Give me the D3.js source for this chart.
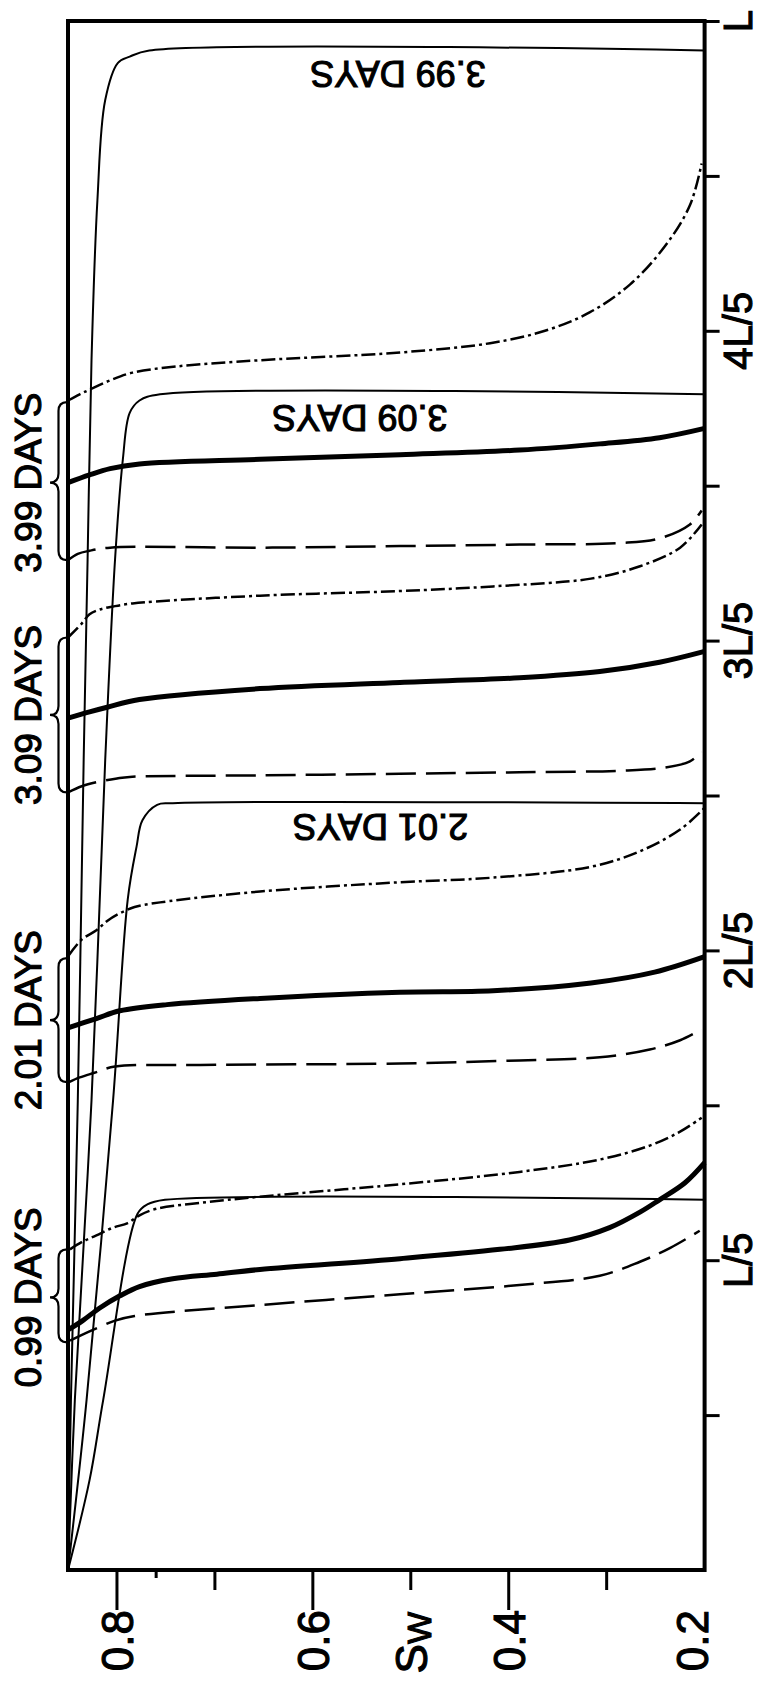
<!DOCTYPE html>
<html>
<head>
<meta charset="utf-8">
<script src="https://cdn.jsdelivr.net/npm/d3@7"></script>
<style>
  body { margin: 0; background: #fff; }
  text { font-family: "Liberation Sans", Arial, sans-serif; fill: #000; stroke: #000; stroke-width: 1.1px; }
</style>
</head>
<body>
<div id="chart"></div>
<script>
// each point is [Sw, x/L]
// thin solid = sharp front solutions
const front099 = [[0.850,0],[0.828,0.058],[0.814,0.110],[0.779,0.230],[0.769,0.236],[0.751,0.239],[0.2,0.239]];
const front201 = [[0.850,0],[0.831,0.110],[0.804,0.303],[0.789,0.433],[0.780,0.467],[0.774,0.484],[0.759,0.494],[0.743,0.495],[0.2,0.495]];
const front309 = [[0.850,0],[0.843,0.110],[0.826,0.303],[0.812,0.523],[0.802,0.652],[0.794,0.717],[0.787,0.747],[0.777,0.755],[0.756,0.759],[0.2,0.759]];
const front399 = [[0.850,0],[0.847,0.110],[0.840,0.303],[0.834,0.523],[0.830,0.652],[0.826,0.781],[0.820,0.884],[0.812,0.949],[0.799,0.973],[0.787,0.977],[0.767,0.981],[0.2,0.981]];

// thick solid
const thick099 = [[0.850,0.155],[0.835,0.161],[0.818,0.169],[0.797,0.177],[0.777,0.183],[0.743,0.188],[0.698,0.191],[0.654,0.194],[0.511,0.201],[0.409,0.207],[0.338,0.213],[0.297,0.221],[0.266,0.231],[0.246,0.239],[0.220,0.250],[0.200,0.263]];
const thick201 = [[0.850,0.350],[0.821,0.356],[0.797,0.361],[0.749,0.365],[0.654,0.369],[0.511,0.373],[0.416,0.374],[0.316,0.379],[0.251,0.386],[0.200,0.396]];
const thick309 = [[0.850,0.550],[0.828,0.554],[0.810,0.557],[0.777,0.562],[0.654,0.569],[0.511,0.573],[0.389,0.576],[0.307,0.580],[0.246,0.586],[0.200,0.593]];
const thick399 = [[0.850,0.702],[0.828,0.707],[0.807,0.711],[0.777,0.714],[0.654,0.717],[0.511,0.720],[0.389,0.723],[0.307,0.727],[0.246,0.731],[0.200,0.737]];

// long dashes
const long099 = [[0.848,0.148],[0.828,0.154],[0.802,0.161],[0.782,0.164],[0.654,0.171],[0.511,0.178],[0.389,0.184],[0.307,0.190],[0.266,0.199],[0.235,0.208],[0.205,0.219]];
const long201 = [[0.849,0.315],[0.838,0.318],[0.823,0.321],[0.802,0.325],[0.715,0.326],[0.511,0.327],[0.389,0.329],[0.307,0.331],[0.256,0.336],[0.225,0.342],[0.203,0.349]];
const long309 = [[0.850,0.502],[0.836,0.506],[0.818,0.509],[0.800,0.511],[0.787,0.512],[0.654,0.513],[0.511,0.514],[0.389,0.515],[0.286,0.516],[0.240,0.518],[0.215,0.522],[0.203,0.528]];
const long399 = [[0.850,0.652],[0.840,0.656],[0.828,0.658],[0.807,0.660],[0.654,0.660],[0.511,0.661],[0.389,0.662],[0.286,0.663],[0.246,0.666],[0.215,0.675],[0.203,0.684]];

// short dashes
const short099 = [[0.848,0.207],[0.835,0.212],[0.821,0.216],[0.804,0.221],[0.789,0.224],[0.777,0.229],[0.761,0.233],[0.715,0.237],[0.654,0.241],[0.511,0.249],[0.389,0.257],[0.307,0.265],[0.256,0.274],[0.225,0.283],[0.203,0.292]];
const short201 = [[0.849,0.397],[0.836,0.407],[0.821,0.413],[0.810,0.419],[0.797,0.424],[0.782,0.428],[0.756,0.431],[0.654,0.438],[0.511,0.444],[0.416,0.447],[0.316,0.454],[0.266,0.464],[0.225,0.478],[0.200,0.492]];
const short309 = [[0.850,0.602],[0.836,0.611],[0.828,0.617],[0.818,0.620],[0.804,0.622],[0.784,0.624],[0.654,0.629],[0.511,0.632],[0.416,0.635],[0.316,0.640],[0.266,0.648],[0.225,0.660],[0.203,0.675]];
const short399 = [[0.850,0.755],[0.838,0.759],[0.828,0.762],[0.807,0.768],[0.784,0.773],[0.739,0.777],[0.654,0.781],[0.511,0.786],[0.419,0.792],[0.363,0.800],[0.317,0.812],[0.276,0.830],[0.240,0.855],[0.215,0.881],[0.203,0.908]];

// labels
const dayLabels = ["0.99 DAYS", "2.01 DAYS", "3.09 DAYS", "3.99 DAYS"];
const braceTop = [0.207, 0.395, 0.602, 0.754];
const braceBottom = [0.147, 0.315, 0.502, 0.652];
const braceTip = [0.176, 0.355, 0.552, 0.702];
const frontLabels = ["2.01 DAYS", "3.09 DAYS", "3.99 DAYS"];
const frontLabelSw = [0.531, 0.552, 0.513];
const frontLabelPos = [0.495, 0.759, 0.981];

const distTicks = [0.1, 0.2, 0.3, 0.4, 0.5, 0.6, 0.7, 0.8, 0.9, 1.0];
const distLabelVals = [0.2, 0.4, 0.6, 0.8, 1.0];
const distLabels = ["L/5", "2L/5", "3L/5", "4L/5", "L"];
const swMajor = [0.8, 0.6, 0.4];
const swMid = [0.7, 0.5, 0.3];
const swMinor = [0.76];
const swLabelVals = [0.8, 0.6, 0.4, 0.2];
const swLabels = ["0.8", "0.6", "0.4", "0.2"];

const width = 767, height = 1688;

const svg = d3.select("#chart").append("svg")
  .attr("width", width)
  .attr("height", height);

const x = d3.scaleLinear().domain([0.2, 0.85]).range([704.6, 68]);
const y = d3.scaleLinear().domain([0, 1]).range([1570, 21]);

const line = d3.line()
  .x(d => x(d[0]))
  .y(d => y(d[1]))
  .curve(d3.curveCatmullRom.alpha(0.5));

const curves = [
  { data: front099, w: 2, dash: null },
  { data: front201, w: 2, dash: null },
  { data: front309, w: 2, dash: null },
  { data: front399, w: 2, dash: null },
  { data: long099, w: 2.5, dash: "30,10" },
  { data: long201, w: 2.5, dash: "30,10" },
  { data: long309, w: 2.5, dash: "30,10" },
  { data: long399, w: 2.5, dash: "30,10" },
  { data: short099, w: 2.5, dash: "14,4,3,4" },
  { data: short201, w: 2.5, dash: "14,4,3,4" },
  { data: short309, w: 2.5, dash: "14,4,3,4" },
  { data: short399, w: 2.5, dash: "14,4,3,4" },
  { data: thick099, w: 5, dash: null },
  { data: thick201, w: 5, dash: null },
  { data: thick309, w: 5, dash: null },
  { data: thick399, w: 5, dash: null }
];

svg.selectAll(".curve")
  .data(curves)
  .enter().append("path")
  .attr("class", "curve")
  .attr("d", d => line(d.data))
  .attr("fill", "none")
  .attr("stroke", "#000")
  .attr("stroke-width", d => d.w)
  .attr("stroke-dasharray", d => d.dash)
  .attr("stroke-linejoin", "round");

// frame
svg.append("rect")
  .attr("x", x(0.85))
  .attr("y", y(1))
  .attr("width", x(0.2) - x(0.85))
  .attr("height", y(0) - y(1))
  .attr("fill", "none")
  .attr("stroke", "#000")
  .attr("stroke-width", 4);

// distance axis on the right
const rightAxis = svg.append("g")
  .attr("transform", `translate(${x(0.2)},0)`)
  .call(d3.axisRight(y).tickValues(distTicks).tickSize(15).tickFormat(""));
rightAxis.select(".domain").remove();
rightAxis.selectAll("line").attr("stroke", "#000").attr("stroke-width", 3);

svg.selectAll(".distLabel")
  .data(distLabelVals)
  .enter().append("text")
  .attr("class", "distLabel")
  .attr("transform", d => `translate(738,${y(d)}) rotate(-90)`)
  .attr("text-anchor", "middle")
  .attr("dy", "0.36em")
  .style("font-size", "40px")
  .text((d, i) => distLabels[i]);

// Sw ticks along the bottom
function bottomTicks(vals, len) {
  svg.selectAll(null)
    .data(vals)
    .enter().append("line")
    .attr("x1", d => x(d)).attr("x2", d => x(d))
    .attr("y1", y(0)).attr("y2", y(0) + len)
    .attr("stroke", "#000")
    .attr("stroke-width", 3);
}
bottomTicks(swMajor, 40);
bottomTicks(swMid, 20);
bottomTicks(swMinor, 8);

svg.selectAll(".swLabel")
  .data(swLabelVals)
  .enter().append("text")
  .attr("class", "swLabel")
  .attr("transform", d => `translate(${d === 0.2 ? x(d) - 12 : x(d)},1610) rotate(-90)`)
  .attr("text-anchor", "end")
  .attr("dy", "0.36em")
  .style("font-size", "44px")
  .text((d, i) => swLabels[i]);

const swTitle = svg.append("text")
  .attr("transform", `translate(${x(0.5)},1612) rotate(-90)`)
  .attr("text-anchor", "end")
  .attr("dy", "0.36em")
  .style("font-size", "44px");
swTitle.append("tspan").text("S");
swTitle.append("tspan").attr("dy", "0.12em").style("font-size", "34px").text("W");

// braces on the left
function brace(top, tip, bottom) {
  const xr = x(0.85) - 1, xt = 50, xm = (xr + xt) / 2, q = 9;
  const y1 = y(top), ym = y(tip), y2 = y(bottom);
  return `M${xr},${y1} Q${xm},${y1} ${xm},${y1 + q} L${xm},${ym - q} Q${xm},${ym} ${xt},${ym}` +
         ` Q${xm},${ym} ${xm},${ym + q} L${xm},${y2 - q} Q${xm},${y2} ${xr},${y2}`;
}

svg.selectAll(".brace")
  .data(braceTip)
  .enter().append("path")
  .attr("class", "brace")
  .attr("d", (d, i) => brace(braceTop[i], d, braceBottom[i]))
  .attr("fill", "none")
  .attr("stroke", "#000")
  .attr("stroke-width", 2.2);

svg.selectAll(".dayLabel")
  .data(braceTip)
  .enter().append("text")
  .attr("class", "dayLabel")
  .attr("transform", d => `translate(28,${y(d)}) rotate(-90)`)
  .attr("text-anchor", "middle")
  .attr("dy", "0.36em")
  .style("font-size", "37px")
  .text((d, i) => dayLabels[i]);

// upside-down labels under the fronts
svg.selectAll(".frontLabel")
  .data(frontLabelPos)
  .enter().append("text")
  .attr("class", "frontLabel")
  .attr("transform", (d, i) => `translate(${x(frontLabelSw[i])},${y(d) + 24}) rotate(180)`)
  .attr("text-anchor", "middle")
  .attr("dy", "0.36em")
  .style("font-size", "36px")
  .text((d, i) => frontLabels[i]);
</script>
</body>
</html>
